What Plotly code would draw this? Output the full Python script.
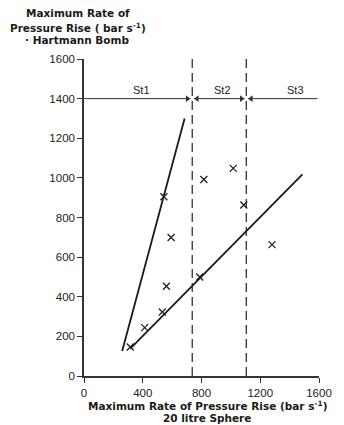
import plotly.graph_objects as go

# Data (bar/s)
sphere_x = [315, 413, 533, 561, 593, 544, 788, 816, 1016, 1088, 1280]
bomb_y = [146, 244, 323, 453, 699, 905, 500, 992, 1048, 863, 663]

steep_line_x = [260, 685]
steep_line_y = [126, 1300]
shallow_line_x = [315, 1487]
shallow_line_y = [138, 1018]

st_boundaries = [737, 1105]
st_labels = ["St1", "St2", "St3"]
st_label_x = [390, 940, 1440]
st_line_y = 1400
st_line_end = 1590

x_ticks = [0, 400, 800, 1200, 1600]
y_ticks = [0, 200, 400, 600, 800, 1000, 1200, 1400, 1600]

FONT = "Liberation Sans, Arial, Helvetica, sans-serif"
TFONT = "DejaVu Sans, Liberation Sans, sans-serif"
INK = "#1a1a1a"

fig = go.Figure()

# Boundary dashed lines
for b in st_boundaries:
    fig.add_trace(go.Scatter(x=[b, b], y=[0, 1600], mode="lines",
                             line=dict(color="#333", width=1.3, dash="9px,5px"),
                             hoverinfo="skip", showlegend=False))

# Fitted lines
fig.add_trace(go.Scatter(x=steep_line_x, y=steep_line_y, mode="lines",
                         line=dict(color=INK, width=1.8), showlegend=False))
fig.add_trace(go.Scatter(x=shallow_line_x, y=shallow_line_y, mode="lines",
                         line=dict(color=INK, width=1.8), showlegend=False))

# Data points
fig.add_trace(go.Scatter(x=sphere_x, y=bomb_y, mode="markers",
                         marker=dict(symbol="x-thin", size=7,
                                     line=dict(color="#222", width=1.3)),
                         showlegend=False))

# Horizontal St class line with arrowheads
u = 1600 / 244.0  # data units per pixel (approx.)
gap = 2 * u
b1, b2 = st_boundaries
seg_x = [0, b1 - gap, None, b1 + gap, b2 - gap, None, b2 + gap, st_line_end]
seg_y = [st_line_y if v is not None else None for v in seg_x]
fig.add_trace(go.Scatter(x=seg_x, y=seg_y, mode="lines",
                         line=dict(color="#333", width=1), hoverinfo="skip",
                         showlegend=False))
head_x = [b1 - gap - 3 * u, b1 + gap + 3 * u, b2 - gap - 3 * u, b2 + gap + 3 * u]
head_sym = ["triangle-right", "triangle-left", "triangle-right", "triangle-left"]
fig.add_trace(go.Scatter(x=head_x, y=[st_line_y] * 4, mode="markers",
                         marker=dict(symbol=head_sym, size=6, color="#333"),
                         hoverinfo="skip", showlegend=False))

for lab, lx in zip(st_labels, st_label_x):
    fig.add_annotation(x=lx, y=st_line_y, xref="x", yref="y", text=lab,
                       showarrow=False, yanchor="bottom", yshift=1,
                       font=dict(family=FONT, size=11, color="#222"))

# Titles
title_font = dict(family=TFONT, size=10.5, color=INK)
top_lines = [("<b>Maximum Rate of</b>", 46),
             ("<b>Pressure Rise ( bar s<sup>-1</sup>)</b>", 32),
             ("<b>· Hartmann Bomb</b>", 19)]
for txt, ys in top_lines:
    fig.add_annotation(xref="paper", yref="paper", x=-0.026, y=1.0, yshift=ys,
                       text=txt, showarrow=False,
                       yanchor="middle", xanchor="center", font=title_font)

bottom_lines = [("<b>Maximum Rate of Pressure Rise (bar s<sup>-1</sup>)</b>", -29),
                ("<b>20 litre Sphere</b>", -42)]
for txt, ys in bottom_lines:
    fig.add_annotation(xref="paper", yref="paper", x=0.525, y=0.0, yshift=ys,
                       text=txt, showarrow=False,
                       yanchor="middle", xanchor="center", font=title_font)

axis_common = dict(showgrid=False, zeroline=False, showline=True,
                   linecolor="#333", linewidth=1.5, ticks="outside",
                   ticklen=5, tickwidth=1.2, tickcolor="#333",
                   tickfont=dict(family=FONT, size=11.5, color="#222"))

fig.update_xaxes(range=[0, 1600], tickvals=x_ticks,
                 ticktext=[str(v) for v in x_ticks], **axis_common)
fig.update_yaxes(range=[0, 1600], tickvals=y_ticks,
                 ticktext=[str(v) for v in y_ticks], **axis_common)

fig.update_layout(width=344, height=425,
                  margin=dict(l=84, r=16, t=59, b=49),
                  paper_bgcolor="white", plot_bgcolor="white",
                  showlegend=False)

fig.write_html("out.html")
